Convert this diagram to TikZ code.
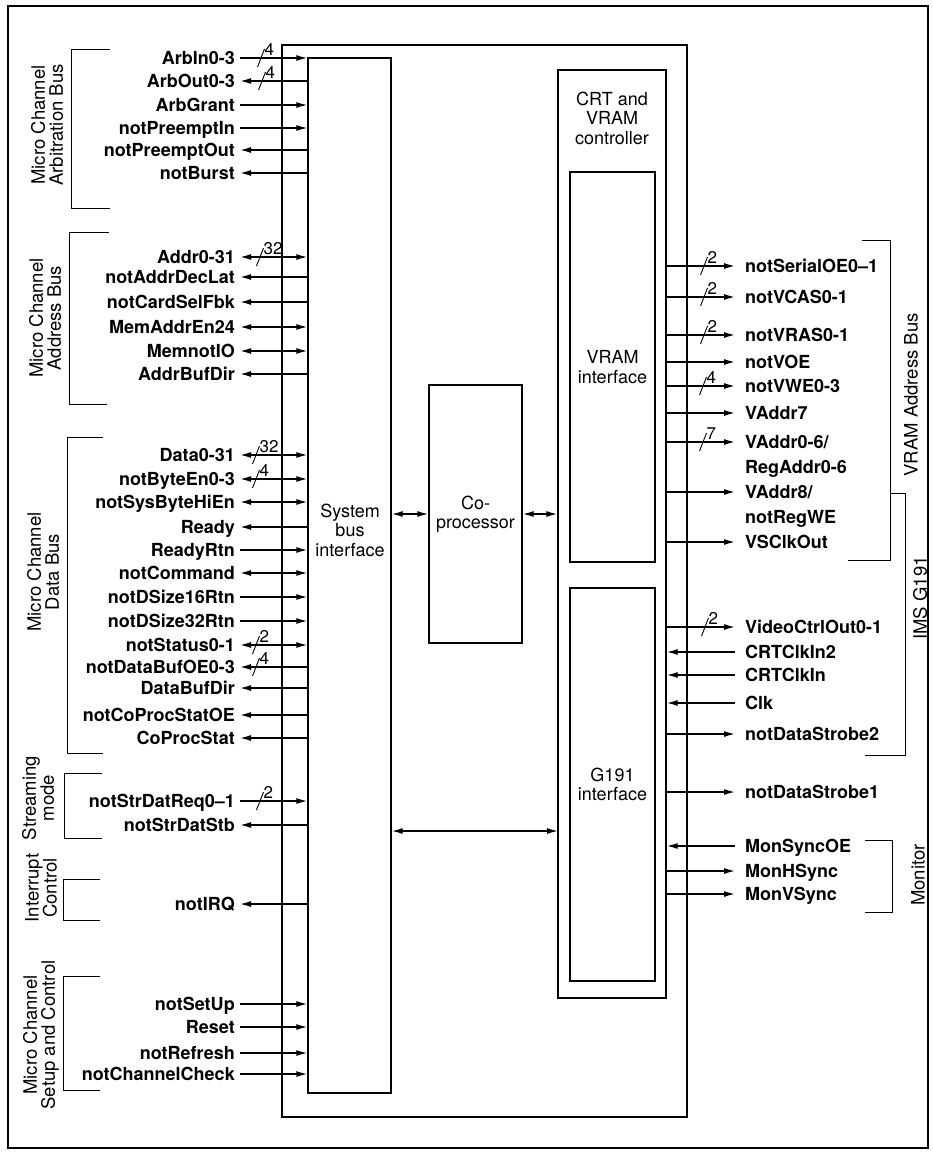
\documentclass[tikz,border=0pt]{standalone}
\usepackage{fontspec}
\setmainfont{TeX Gyre Heros}
\usetikzlibrary{arrows.meta}
\newcommand\sigfont{\fontsize{18}{25}\selectfont\bfseries}
\newcommand\boxfont{\fontsize{18}{19.5}\selectfont}
\newcommand\grpfont{\fontsize{18.5}{18}\selectfont}
\newcommand\numfont{\fontsize{17}{17}\selectfont}
\tikzset{
  wire/.style={line width=1.4pt},
  block/.style={draw, line width=1.4pt, inner sep=0pt, font=\boxfont, align=center},
  sigleft/.style={font=\sigfont, text height=13pt, text depth=0pt, inner xsep=5pt, inner ysep=0pt, anchor=east},
  sigright/.style={font=\sigfont, text height=13pt, text depth=0pt, inner xsep=10pt, inner ysep=0pt, anchor=west},
  sigtwo/.style={font=\sigfont, align=left, inner xsep=10pt, inner ysep=0pt, anchor=west},
  grplabel/.style={font=\grpfont, rotate=90, align=center, inner sep=0pt},
  bracket/.style={line width=1pt},
}
% bus width mark: name, x, y, number of lines
\newcommand\buswidth[4]{%
  \draw[line width=0.9pt] (#2-3.5,#3+9) -- (#2+3.5,#3-9);
  \node[font=\numfont, anchor=south west, inner sep=0pt] (#1) at (#2+3.5,#3-2) {#4};}

\begin{document}
\begin{tikzpicture}[x=1pt, y=-1pt, >={Latex[length=11pt,width=6pt]}]

  \useasboundingbox (0,0) rectangle (933,1156);

  % Outer frame.
  \draw[line width=1.2pt] (8,6) rectangle (928,1148);

  % Chip and its blocks.
  \node[block, minimum width=405pt, minimum height=1072pt] (chip) at (484.5,581) {};
  \node[block, minimum width=83pt, minimum height=1035pt] (sbi) at (349.5,575.5) {};
  \node[font=\boxfont, align=center] (sbilabel) at (350,530) {System\\bus\\interface};
  \node[block, minimum width=93pt, minimum height=258pt] (copro) at (475.5,514) {Co-\\processor};
  \node[block, minimum width=108pt, minimum height=928pt] (crt) at (612,534) {};
  \node[font=\boxfont, align=center] (crtlabel) at (612,118) {CRT and\\VRAM\\controller};
  \node[block, minimum width=85pt, minimum height=390pt] (vram) at (612.5,367) {VRAM\\interface};
  \node[block, minimum width=85pt, minimum height=393pt] (g191) at (612.5,784.5) {G191\\interface};

  % Internal buses.
  \coordinate (crtin) at (558,831);
  \draw[wire, <->] (sbi.east |- copro.west) -- (copro.west);
  \draw[wire, <->] (copro.east) -- (copro.east -| crt.west);
  \draw[wire, <->] (sbi.east |- crtin) -- (crtin);

  % Micro Channel inputs.
  \foreach \y/\nm/\txt in {58/arbin/ArbIn0-3, 105/arbgrant/ArbGrant,
      128/preemptin/notPreemptIn, 550/readyrtn/ReadyRtn,
      597/dsizesixteen/notDSize16Rtn, 621/dsizethirtytwo/notDSize32Rtn,
      801/strdatreq/notStrDatReq0--1, 1004/setup/notSetUp, 1027/reset/Reset,
      1053/refresh/notRefresh, 1074/chancheck/notChannelCheck} {
    \node[sigleft] (\nm) at (240,\y) {\txt};
    \draw[wire, ->] (\nm.east) -- (\nm.east -| sbi.west);
  }

  % Micro Channel outputs.
  \foreach \y/\nm/\txt in {81/arbout/ArbOut0-3, 150/preemptout/notPreemptOut,
      173/burst/notBurst, 277/addrdeclat/notAddrDecLat,
      302/cardselfbk/notCardSelFbk, 374/addrbufdir/AddrBufDir, 527/ready/Ready,
      667/databufoe/notDataBufOE0-3, 688/databufdir/DataBufDir,
      715/coprocstatoe/notCoProcStatOE, 738/coprocstat/CoProcStat,
      825/strdatstb/notStrDatStb, 904/irq/notIRQ} {
    \node[sigleft] (\nm) at (240,\y) {\txt};
    \draw[wire, <-] (\nm.east) -- (\nm.east -| sbi.west);
  }

  % Micro Channel bidirectional lines.
  \foreach \y/\nm/\txt in {257/addr/Addr0-31, 327/memaddren/MemAddrEn24,
      351/memnotio/MemnotIO, 455/data/Data0-31, 479/byteen/notByteEn0-3,
      502/sysbytehien/notSysByteHiEn, 573/command/notCommand,
      645/status/notStatus0-1} {
    \node[sigleft] (\nm) at (240,\y) {\txt};
    \draw[wire, <->] (\nm.east) -- (\nm.east -| sbi.west);
  }

  % VRAM and G191 outputs.
  \foreach \y/\nm/\txt in {266/serialoe/notSerialOE0--1, 297/vcas/notVCAS0-1,
      335/vras/notVRAS0-1, 362/voe/notVOE, 386/vwe/notVWE0-3,
      413/vaddrseven/VAddr7, 542/vsclkout/VSClkOut,
      627/videoctrl/VideoCtrlOut0-1, 734/strobetwo/notDataStrobe2,
      792/strobeone/notDataStrobe1, 871/hsync/MonHSync, 894/vsync/MonVSync} {
    \node[sigright] (\nm) at (735,\y) {\txt};
    \draw[wire, ->] (\nm.west -| crt.east) -- (\nm.west);
  }

  % G191 inputs.
  \foreach \y/\nm/\txt in {652/crtclkintwo/CRTClkIn2, 675/crtclkin/CRTClkIn,
      703/clk/Clk, 846/syncoe/MonSyncOE} {
    \node[sigright] (\nm) at (735,\y) {\txt};
    \draw[wire, <-] (\nm.west -| crt.east) -- (\nm.west);
  }

  % Two-line labels.
  \coordinate (vaddrlo) at (735,442);
  \node[sigtwo] (vaddrlotxt) at (735,456) {VAddr0-6/\\RegAddr0-6};
  \draw[wire, ->] (vaddrlo -| crt.east) -- (vaddrlo);
  \coordinate (vaddrhi) at (735,492);
  \node[sigtwo] (vaddrhitxt) at (735,506) {VAddr8/\\notRegWE};
  \draw[wire, ->] (vaddrhi -| crt.east) -- (vaddrhi);

  % Bus widths.
  \buswidth{warbin}{261}{58}{4}
  \buswidth{warbout}{262}{81}{4}
  \buswidth{waddr}{260}{257}{32}
  \buswidth{wdata}{256}{455}{32}
  \buswidth{wbyteen}{256}{479}{4}
  \buswidth{wstatus}{256}{645}{2}
  \buswidth{wdatabufoe}{256}{667}{4}
  \buswidth{wstrdatreq}{260}{801}{2}
  \buswidth{wserialoe}{704}{266}{2}
  \buswidth{wvcas}{704}{297}{2}
  \buswidth{wvras}{704}{335}{2}
  \buswidth{wvwe}{703}{386}{4}
  \buswidth{wvaddr}{703}{442}{7}
  \buswidth{wvideoctrl}{705}{627}{2}

  % Group brackets, left.
  \draw[bracket] (110,50) -| (71,208) -- (110,208);
  \draw[bracket] (109,232) -| (69,404) -- (107,404);
  \draw[bracket] (103,437) -| (67,753) -- (103,753);
  \draw[bracket] (102,773) -| (64,838) -- (102,838);
  \draw[bracket] (100,879) -| (63,920) -- (100,920);
  \draw[bracket] (100,976) -| (63,1090) -- (100,1090);
  \node[grplabel] (grparb) at (47,125) {Micro Channel\\Arbitration Bus};
  \node[grplabel] (grpaddr) at (45,318) {Micro Channel\\Address Bus};
  \node[grplabel] (grpdata) at (43,572) {Micro Channel\\Data Bus};
  \node[grplabel] (grpstream) at (38,798) {Streaming\\mode};
  \node[grplabel] (grpirq) at (41,888) {Interrupt\\Control};
  \node[grplabel] (grpsetup) at (41,1035) {Micro Channel\\Setup and Control};

  % Group brackets, right.
  \draw[bracket] (862,240) -| (890,560) -- (848,560);
  \draw[bracket] (890,493) -| (905,755) -- (865,755);
  \draw[bracket] (865,840) -| (892,912) -- (865,912);
  \node[grplabel] (grpvram) at (911,395) {VRAM Address Bus};
  \node[grplabel] (grpims) at (920,598) {IMS G191};
  \node[grplabel] (grpmon) at (918,875) {Monitor};

\end{tikzpicture}
\end{document}
